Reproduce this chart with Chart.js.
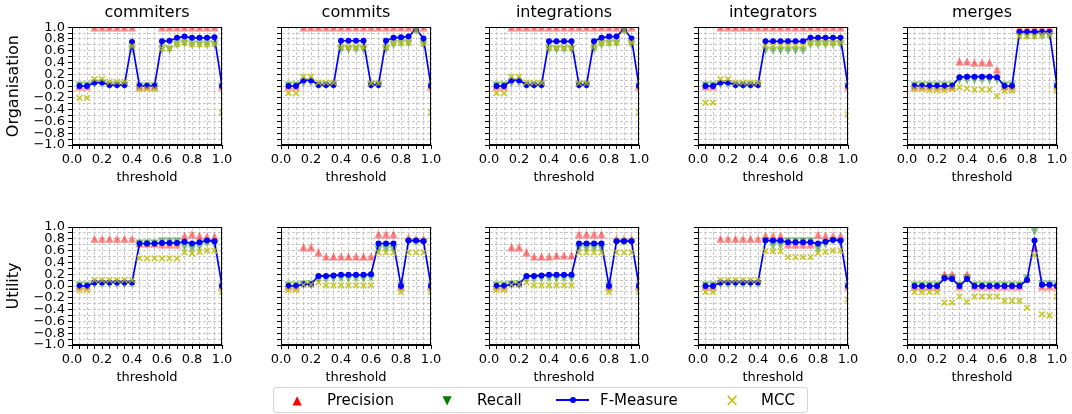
<!DOCTYPE html>
<html>
<head>
<meta charset="utf-8">
<script src="https://cdn.jsdelivr.net/npm/chart.js@4.4.1/dist/chart.umd.min.js"></script>
<style>
body{margin:0;background:#fff;width:1072px;height:414px;position:relative;overflow:hidden;font-family:'DejaVu Sans',sans-serif}
canvas{position:absolute}
#legend{position:absolute;left:273px;top:387px;width:533px;height:24px;border:1px solid #d4d4d4;border-radius:3px;background:#fff;font-size:15px;color:#000}
#legend span{position:absolute;top:0;line-height:24px;white-space:nowrap}
#legend .sym{transform:translateX(-50%)}
#legend .line{position:absolute;top:11px;height:2px;background:#0000ff}
#legend .dot{position:absolute;top:9px;width:6px;height:6px;border-radius:50%;background:#0000ff}
</style>
</head>
<body>
<div id="legend">
  <span class="sym" style="left:23px;color:#ff0000;font-size:12px">▲</span><span style="left:53px">Precision</span>
  <span class="sym" style="left:173px;color:#007f00;font-size:12px">▼</span><span style="left:203px">Recall</span>
  <div class="line" style="left:282px;width:33px"></div><div class="dot" style="left:296px"></div><span style="left:326px">F-Measure</span>
  <span class="sym" style="left:458px;color:#bfbf00;font-size:17px">×</span><span style="left:487px">MCC</span>
</div>
<script>
const thresholds=[0.05,0.1,0.15,0.2,0.25,0.3,0.35,0.4,0.45,0.5,0.55,0.6,0.65,0.7,0.75,0.8,0.85,0.9,0.95,1.0];
const columns=["commiters","commits","integrations","integrators","merges"];
const rows=["Organisation","Utility"];

// Organisation row
const orgCommitersP=[0,0,1,1,1,1,1,1,0,0,0,1,1,1,1,1,1,1,1,0];
const orgCommitersR=[0.01,0.01,0.04,0.04,0.01,0.01,0.01,0.62,0,0,0,0.62,0.62,0.7,0.72,0.7,0.7,0.7,0.7,0];
const orgCommitersF=[0,0,0.06,0.06,0.02,0.02,0.02,0.75,0,0,0,0.76,0.77,0.82,0.84,0.82,0.82,0.82,0.83,0];
const orgCommitersM=[-0.2,-0.2,0.12,0.12,0.07,0.07,0.07,0.68,-0.05,-0.05,-0.05,0.64,0.64,0.71,0.74,0.71,0.71,0.71,0.72,-0.45];

const orgCommitsP=[0,0,1,1,1,1,1,1,1,1,1,1,1,1,1,1,1,1,1,0];
const orgCommitsR=[0.01,0.01,0.05,0.05,0.01,0.01,0.01,0.62,0.62,0.62,0.62,0.01,0.01,0.62,0.7,0.72,0.72,0.94,0.7,0];
const orgCommitsF=[0,0,0.1,0.1,0.02,0.02,0.02,0.77,0.77,0.77,0.77,0.02,0.02,0.77,0.82,0.83,0.84,0.97,0.81,0];
const orgCommitsM=[-0.12,-0.12,0.16,0.16,0.06,0.06,0.06,0.66,0.66,0.66,0.66,0.05,0.05,0.66,0.73,0.73,0.74,0.95,0.72,-0.44];

const orgIntegrationsP=[0,0,1,1,1,1,1,1,1,1,1,1,1,1,1,1,1,1,1,0];
const orgIntegrationsR=[0.01,0.01,0.05,0.05,0.01,0.01,0.01,0.62,0.62,0.62,0.62,0.01,0.01,0.62,0.7,0.72,0.72,0.94,0.7,0];
const orgIntegrationsF=[0,0,0.1,0.1,0.02,0.02,0.02,0.76,0.76,0.76,0.76,0.02,0.02,0.76,0.82,0.84,0.84,0.97,0.81,0];
const orgIntegrationsM=[-0.12,-0.12,0.16,0.16,0.06,0.06,0.06,0.65,0.65,0.65,0.65,0.05,0.05,0.67,0.73,0.73,0.74,0.95,0.74,-0.44];

const orgIntegratorsP=[0,0,1,1,1,1,1,1,1,1,1,1,1,1,1,1,1,1,1,0];
const orgIntegratorsR=[0.01,0.01,0.03,0.03,0.01,0.01,0.01,0.01,0.6,0.6,0.6,0.6,0.6,0.6,0.7,0.7,0.7,0.7,0.7,0];
const orgIntegratorsF=[0,0,0.06,0.06,0.02,0.02,0.02,0.02,0.76,0.76,0.76,0.76,0.76,0.76,0.82,0.82,0.82,0.82,0.82,0];
const orgIntegratorsM=[-0.28,-0.28,0.12,0.12,0.06,0.06,0.06,0.06,0.68,0.68,0.68,0.68,0.68,0.68,0.74,0.74,0.74,0.74,0.74,-0.48];

const orgMergesP=[0,0,0,0,0,0,0.42,0.42,0.4,0.4,0.4,0.28,0,0,1,1,1,1,1,0];
const orgMergesR=[0.01,0.01,0.01,0.01,0.01,0.01,0.1,0.1,0.1,0.1,0.1,0.1,0.01,0.01,0.85,0.85,0.85,0.85,0.85,0];
const orgMergesF=[0,0,0,0,0,0,0.15,0.16,0.16,0.16,0.16,0.15,0,0,0.92,0.92,0.92,0.92,0.92,0];
const orgMergesM=[-0.05,-0.05,-0.07,-0.07,-0.07,-0.05,-0.02,-0.04,-0.06,-0.06,-0.06,-0.17,-0.08,-0.08,0.85,0.85,0.85,0.87,0.87,-0.08];

// Utility row
const utilCommitersP=[0,0,0.8,0.8,0.8,0.8,0.8,0.8,0.72,0.72,0.72,0.71,0.71,0.71,0.85,0.88,0.85,0.84,0.84,0];
const utilCommitersR=[0.01,0.01,0.03,0.03,0.03,0.03,0.03,0.03,0.72,0.72,0.72,0.75,0.75,0.75,0.66,0.62,0.66,0.72,0.7,0];
const utilCommitersF=[0,0,0.06,0.06,0.06,0.06,0.06,0.06,0.72,0.72,0.72,0.73,0.73,0.73,0.75,0.72,0.74,0.77,0.76,0];
const utilCommitersM=[-0.07,-0.07,0.1,0.1,0.1,0.1,0.1,0.1,0.47,0.47,0.47,0.47,0.47,0.47,0.57,0.55,0.58,0.6,0.6,-0.1];

const utilCommitsP=[0,0,0.66,0.66,0.57,0.5,0.5,0.5,0.5,0.5,0.5,0.5,0.88,0.88,0.88,0,0.82,0.8,0.8,0];
const utilCommitsR=[0.01,0.01,0.02,0.02,0.11,0.11,0.12,0.12,0.12,0.12,0.12,0.13,0.62,0.62,0.62,0,0.74,0.74,0.74,0];
const utilCommitsF=[0,0,0.03,0.03,0.17,0.17,0.18,0.19,0.19,0.19,0.19,0.2,0.72,0.72,0.72,0,0.77,0.77,0.76,0];
const utilCommitsM=[-0.07,-0.07,0.02,0.02,0.06,0.01,0.01,0.01,0.01,0.01,0.01,0.01,0.57,0.57,0.57,-0.1,0.57,0.57,0.57,-0.1];

const utilIntegrationsP=[0,0,0.66,0.66,0.57,0.5,0.5,0.5,0.52,0.52,0.52,0.88,0.88,0.88,0.88,0,0.8,0.8,0.8,0];
const utilIntegrationsR=[0.01,0.01,0.02,0.02,0.11,0.11,0.12,0.12,0.12,0.12,0.12,0.63,0.63,0.63,0.63,0,0.74,0.74,0.74,0];
const utilIntegrationsF=[0,0,0.03,0.03,0.17,0.17,0.18,0.19,0.19,0.19,0.19,0.72,0.72,0.72,0.72,0,0.76,0.76,0.76,0];
const utilIntegrationsM=[-0.07,-0.07,0.02,0.02,0.06,0.01,0.01,0.01,0.01,0.01,0.01,0.57,0.57,0.57,0.57,-0.1,0.57,0.57,0.57,-0.1];

const utilIntegratorsP=[0,0,0.8,0.8,0.8,0.8,0.8,0.8,0.85,0.85,0.85,0.71,0.71,0.71,0.71,0.87,0.85,0.85,0.85,0];
const utilIntegratorsR=[0.01,0.01,0.03,0.03,0.03,0.03,0.03,0.03,0.76,0.68,0.68,0.76,0.76,0.76,0.76,0.62,0.7,0.76,0.72,0];
const utilIntegratorsF=[0,0,0.06,0.06,0.06,0.06,0.06,0.06,0.77,0.77,0.77,0.74,0.74,0.74,0.74,0.72,0.75,0.78,0.77,0];
const utilIntegratorsM=[-0.1,-0.1,0.1,0.1,0.1,0.1,0.1,0.1,0.59,0.59,0.59,0.49,0.49,0.49,0.49,0.56,0.58,0.6,0.6,-0.23];

const utilMergesP=[0,0,0,0,0.2,0.2,0,0.2,0,0,0,0,0,0,0,0.12,0.65,0,0,0];
const utilMergesR=[0.01,0.01,0.01,0.01,0.12,0.12,0.01,0.12,0.01,0.01,0.01,0.01,0.01,0.01,0.01,0.12,0.92,0.02,0.02,0.01];
const utilMergesF=[0,0,0,0,0.13,0.12,0,0.12,0,0,0,0,0,0,0,0.1,0.77,0.02,0.02,0];
const utilMergesM=[-0.1,-0.1,-0.1,-0.1,-0.28,-0.28,-0.18,-0.27,-0.18,-0.18,-0.18,-0.18,-0.25,-0.25,-0.25,-0.37,0.52,-0.48,-0.5,-0.18];

const panels=[
  [orgCommitersP,orgCommitersR,orgCommitersF,orgCommitersM],
  [orgCommitsP,orgCommitsR,orgCommitsF,orgCommitsM],
  [orgIntegrationsP,orgIntegrationsR,orgIntegrationsF,orgIntegrationsM],
  [orgIntegratorsP,orgIntegratorsR,orgIntegratorsF,orgIntegratorsM],
  [orgMergesP,orgMergesR,orgMergesF,orgMergesM],
  [utilCommitersP,utilCommitersR,utilCommitersF,utilCommitersM],
  [utilCommitsP,utilCommitsR,utilCommitsF,utilCommitsM],
  [utilIntegrationsP,utilIntegrationsR,utilIntegrationsF,utilIntegrationsM],
  [utilIntegratorsP,utilIntegratorsR,utilIntegratorsF,utilIntegratorsM],
  [utilMergesP,utilMergesR,utilMergesF,utilMergesM]
];

Chart.defaults.font.family="'DejaVu Sans', sans-serif";
Chart.defaults.color="#000";

const plotLeft=[72,281,489,698,907];
const plotTop=[27,227];
const plotW=150, plotH=118;

// matplotlib style triangles (centred on their bounding box)
function triangle(color,down){
  const s=9, m=document.createElement("canvas");
  m.width=s; m.height=s;
  const g=m.getContext("2d");
  g.fillStyle=color;
  g.beginPath();
  if(down){g.moveTo(0.5,0.5);g.lineTo(s-0.5,0.5);g.lineTo(s/2,s-0.5);}
  else{g.moveTo(s/2,0.5);g.lineTo(s-0.5,s-0.5);g.lineTo(0.5,s-0.5);}
  g.closePath();
  g.fill();
  return m;
}
const upTri=triangle("rgba(255,0,0,0.5)",false);
const downTri=triangle("rgba(0,128,0,0.5)",true);

const frame={
  id:"frame",
  afterDraw(chart){
    const {ctx,chartArea:a}=chart;
    ctx.save();
    ctx.strokeStyle="#000";
    ctx.lineWidth=1;
    ctx.strokeRect(Math.round(a.left)+0.5,Math.round(a.top)+0.5,Math.round(a.width)-1,Math.round(a.height)-1);
    ctx.restore();
  }
};

function pts(ys){
  return ys.map((y,i)=>({x:thresholds[i],y:y}));
}

panels.forEach((vals,n)=>{
  const row=Math.floor(n/5), col=n%5;
  const axisW=col==0?72:14;
  const topPad=row==0?27:10;
  const c=document.createElement("canvas");
  const w=axisW+plotW+12, h=topPad+plotH+44;
  c.width=w; c.height=h;
  c.style.left=(plotLeft[col]-axisW)+"px";
  c.style.top=(plotTop[row]-topPad)+"px";
  c.style.width=w+"px"; c.style.height=h+"px";
  document.body.insertBefore(c,document.getElementById("legend"));

  new Chart(c,{
    type:"scatter",
    data:{
      datasets:[
        {label:"Precision",data:pts(vals[0]),pointStyle:upTri,pointRadius:5,order:3,clip:0},
        {label:"Recall",data:pts(vals[1]),pointStyle:downTri,pointRadius:5,order:2,clip:0},
        {label:"F-Measure",data:pts(vals[2]),showLine:true,borderColor:"#0000ff",borderWidth:1.7,
         pointRadius:3,pointBorderWidth:0,pointBackgroundColor:"#0000ff",backgroundColor:"#0000ff",order:1,clip:0},
        {label:"MCC",data:pts(vals[3]),pointStyle:"crossRot",pointRadius:4,pointBorderWidth:1.6,
         borderColor:"rgba(190,190,0,0.85)",backgroundColor:"rgba(190,190,0,0.85)",order:0,clip:0}
      ]
    },
    options:{
      responsive:false,
      animation:false,
      events:[],
      layout:{padding:{top:row==0?0:10,right:12,left:0,bottom:0}},
      plugins:{
        legend:{display:false},
        tooltip:{enabled:false},
        title:{display:row==0,fullSize:false,text:columns[col],font:{size:16,weight:"normal"},padding:{top:3,bottom:5},color:"#000"}
      },
      scales:{
        x:{
          type:"linear",min:0,max:1,
          ticks:{stepSize:0.05,autoSkip:false,maxRotation:0,font:{size:13},padding:3,
            callback:v=>{const k=Math.round(v*20);return k%4?"":(k/20).toFixed(1);}},
          grid:{color:"#c8c8c8",tickColor:"#000",tickLength:4},
          border:{display:true,color:"#000",dash:[3,2]},
          title:{display:true,text:"threshold",font:{size:13},padding:{top:0,bottom:4}},
          afterFit:s=>{s.height=44;s.paddingLeft=0;s.paddingRight=0;}
        },
        y:{
          min:-1,max:1,
          ticks:{stepSize:0.1,autoSkip:false,font:{size:13},padding:3,
            callback:v=>{if(col!=0)return "";const k=Math.round(v*10);if(k%2!==0)return "";return (k<0?"\u2212":"")+(Math.abs(k)/10).toFixed(1);}},
          grid:{color:"#c8c8c8",tickColor:"#000",tickLength:4},
          border:{display:true,color:"#000",dash:[3,2]},
          title:{display:col==0,text:rows[row],font:{size:16},padding:{top:4,bottom:4}},
          afterFit:s=>{s.width=axisW;s.paddingTop=0;s.paddingBottom=0;}
        }
      }
    },
    plugins:[frame]
  });
});
</script>
</body>
</html>
